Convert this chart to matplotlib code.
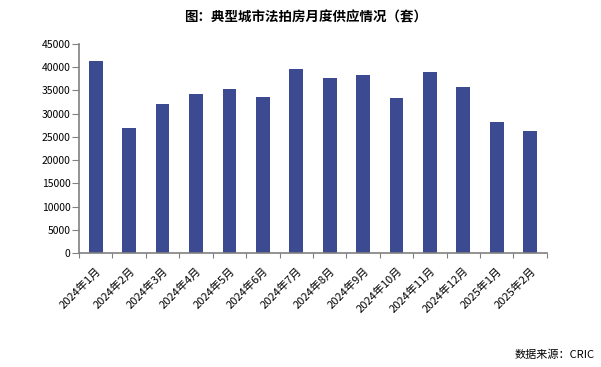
import numpy as np
import matplotlib
matplotlib.use("Agg")
import matplotlib.pyplot as plt

plt.rcParams['font.family'] = ['Noto Sans CJK SC', 'DejaVu Sans']

# 月份与供应套数
months = ['2024年1月', '2024年2月', '2024年3月', '2024年4月', '2024年5月',
          '2024年6月', '2024年7月', '2024年8月', '2024年9月', '2024年10月',
          '2024年11月', '2024年12月', '2025年1月', '2025年2月']
supply = [41300, 26900, 32100, 34300, 35300, 33600, 39600,
          37700, 38300, 33400, 38950, 35700, 28200, 26300]

fig = plt.figure(figsize=(6.01, 3.67), dpi=100)
ax = fig.add_axes([0.1314, 0.3106, 0.7786, 0.5694])

x = np.arange(len(months))
ax.bar(x, supply, width=0.41, color='#3B4A91')

ax.set_xlim(-0.5, len(months) - 0.5)
ax.set_ylim(0, 45000)
ax.set_yticks(np.arange(0, 45001, 5000))
ax.tick_params(axis='y', labelsize=7.5, length=5, color='#808080', pad=1)

# x 轴刻度线放在类别之间，标签放在类别中心
ax.set_xticks(np.arange(-0.5, len(months), 1.0))
ax.set_xticklabels([])
ax.tick_params(axis='x', which='major', length=3.6, color='#808080')
ax.set_xticks(x, minor=True)
ax.set_xticklabels(months, minor=True, rotation=45, ha='right',
                   rotation_mode='anchor', fontsize=8)
ax.tick_params(axis='x', which='minor', length=0, pad=9)

for s in ['top', 'right']:
    ax.spines[s].set_visible(False)
for s in ['left', 'bottom']:
    ax.spines[s].set_color('#808080')
    ax.spines[s].set_linewidth(1.2)

fig.text(0.508, 0.952, '图：典型城市法拍房月度供应情况（套）', ha='center',
         va='center', fontsize=9.7, fontweight='bold')
fig.text(0.99, 0.033, '数据来源：CRIC', ha='right', va='center', fontsize=8)

fig.savefig('out.png', dpi=100)
